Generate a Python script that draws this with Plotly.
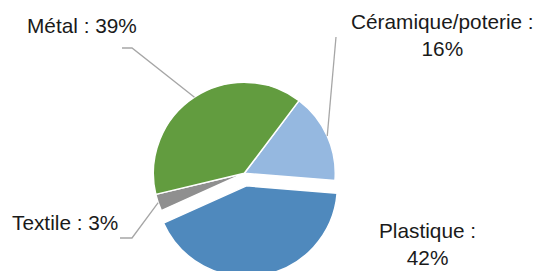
import math
import plotly.graph_objects as go

# Data
categories = ["Céramique/poterie", "Plastique", "Textile", "Métal"]
values = [16, 42, 3, 39]
colors = ["#95b8e0", "#4f89bd", "#8f8f8f", "#629c3f"]
pulls = [0, 0.14, 0, 0]
label_texts = ["Céramique/poterie :<br>16%", "Plastique :<br>42%", "Textile : 3%", "Métal : 39%"]

W, H = 549, 271
OFF = 8  # page body margin offset (pixels)
ROT = 37  # degrees clockwise from 12 o'clock
dom_x = [0.2415, 0.6193]
dom_y = [0.0074, 0.7727]

fig = go.Figure(go.Pie(
    labels=categories, values=values, sort=False, direction="clockwise",
    rotation=ROT, pull=pulls, textinfo="none", hoverinfo="label+percent",
    marker=dict(colors=colors, line=dict(color="white", width=1.5)),
    domain=dict(x=dom_x, y=dom_y), showlegend=False,
))

# geometry (mirrors plotly's pie scaling) for leader lines
bw = W * (dom_x[1] - dom_x[0])
bh = H * (dom_y[1] - dom_y[0])
r = min(bw, bh) / (2 + 2 * max(pulls))
cx = W * (dom_x[0] + dom_x[1]) / 2
cy = H * (2 - dom_y[0] - dom_y[1]) / 2
total = sum(values)

def rim_point(i):
    start = ROT + 360 * sum(values[:i]) / total
    mid = start + 180 * values[i] / total
    a = math.radians(mid)
    return cx + r * math.sin(a), cy - r * math.cos(a)

def px(x):
    return x / W

def py(y):
    return 1 - y / H

# label positions (screen pixels) and leader-line elbows
label_pos = {0: (442, 35), 1: (427, 244), 2: (65, 222.5), 3: (82, 25.5)}
leaders = {0: [(336, 37)], 2: [(120, 238), (132, 238)], 3: [(122, 48), (132, 48)]}

annotations = []
for i, t in enumerate(label_texts):
    x, y = label_pos[i]
    annotations.append(dict(x=px(x - OFF), y=py(y - OFF), xref="paper", yref="paper", text=t,
                            showarrow=False, xanchor="center", yanchor="middle",
                            font=dict(family="Liberation Sans, Arial", size=20.8, color="#1a1a1a")))

shapes = []
for i, pts in leaders.items():
    rx, ry = rim_point(i)
    allp = [(a - OFF, b - OFF) for a, b in pts] + [(rx, ry)]
    path = "M " + " L ".join(f"{px(a)} {py(b)}" for a, b in allp)
    shapes.append(dict(type="path", xref="paper", yref="paper", path=path,
                       line=dict(color="#a6a6a6", width=1.3)))

fig.update_layout(width=W, height=H, margin=dict(l=0, r=0, t=0, b=0),
                  paper_bgcolor="white", plot_bgcolor="white",
                  annotations=annotations, shapes=shapes)
fig.write_html("out.html")
